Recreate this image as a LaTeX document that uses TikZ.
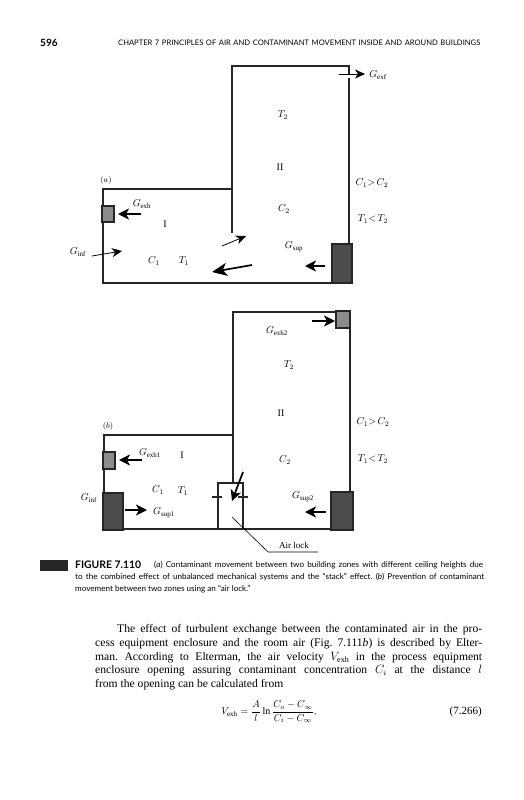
\documentclass[tikz,border=0pt]{standalone}
\usepackage{fontspec}
\usepackage{amsmath}
\usetikzlibrary{arrows.meta}
\setmainfont{Liberation Serif}
\newfontfamily\capfont{Lato}
\frenchspacing
\tikzset{
  wall/.style={line width=1.6pt,draw=black!85},
  flow/.style={line width=1.7pt,-{Stealth[length=11pt,width=11pt,inset=3pt]}},
  thinflow/.style={line width=0.8pt,-{Stealth[length=10pt,width=9pt,inset=3pt]}},
  exhbox/.style={draw=black!85,line width=1.6pt,fill=black!45},
  supbox/.style={draw=black!85,line width=1.6pt,fill=black!70},
  headtext/.style={anchor=west,inner sep=0pt,font=\capfont\fontsize{7.6}{9}\selectfont},
  captext/.style={anchor=west,inner sep=0pt,font=\capfont\fontsize{8.1}{10}\selectfont},
  bodytext/.style={anchor=west,inner sep=0pt,font=\fontsize{11.6}{13}\selectfont},
}
\begin{document}
\begin{tikzpicture}[x=1pt,y=-1pt]
  \useasboundingbox (0,0) rectangle (523,800);
  % page head
  \node[headtext,font=\capfont\bfseries\fontsize{10}{12}\selectfont] (pageno) at (40,43) {596};
  \node[headtext] (head) at (118,43) {\makebox[362pt][s]{CHAPTER 7 PRINCIPLES OF AIR AND CONTAMINANT MOVEMENT INSIDE AND AROUND BUILDINGS}};

  % (a)
  \draw[wall] (349,243) -- (349,78);
  \draw[wall] (349,74) -- (349,66) -- (232,66) -- (232,233);
  \draw[wall] (232,189) -- (103,189) -- (103,283) -- (332,283);
  \draw[exhbox] (102,206) rectangle (114,222);
  \draw[supbox] (332,244) rectangle (352,283);
  \draw[thinflow] (339,74) -- (365,74);
  \draw[flow] (141,214) -- (118,214);
  \draw[thinflow] (92,256) -- (122,251);
  \draw[thinflow] (222,246) -- (246,236);
  \draw[flow,-{Stealth[length=15pt,width=13pt,inset=4pt]}] (252,265) -- (212,272);
  \draw[flow] (325,266) -- (305,266);
  \node (aGexf) at (378,75) {$G_{\mathrm{exf}}$};
  \node (aT2) at (283,115) {$T_2$};
  \node (aII) at (280,167) {II};
  \node (aC2) at (284,209) {$C_2$};
  \node (aCC) at (372,183) {$C_1{>}\,C_2$};
  \node (aTT) at (373,219) {$T_1{<}\,T_2$};
  \node (alabel) at (106,180) {\footnotesize $(a)$};
  \node (aGexh) at (142,204) {$G_{\mathrm{exh}}$};
  \node (aI) at (165,224) {I};
  \node (aGsup) at (294,247) {$G_{\mathrm{sup}}$};
  \node (aGinf) at (78,252) {$G_{\mathrm{inf}}$};
  \node (aC1) at (154,261) {$C_1$};
  \node (aT1) at (184,261) {$T_1$};

  % (b)
  \draw[wall] (350,492) -- (350,312) -- (233,312) -- (233,483);
  \draw[wall] (233,435) -- (104,435) -- (104,493);
  \draw[wall] (123,529) -- (331,529);
  \draw[wall] (218,529) -- (218,483) -- (243,483) -- (243,529);
  \draw[wall] (212,497) -- (222,497);
  \draw[wall] (238,497) -- (248,497);
  \draw[exhbox] (336,311) rectangle (350,328);
  \draw[exhbox] (103,452) rectangle (115,469);
  \draw[supbox] (103,493) rectangle (123,530);
  \draw[supbox] (331,492) rectangle (353,530);
  \draw[flow] (312,321) -- (335,321);
  \draw[flow] (142,460) -- (119,460);
  \draw[flow] (125,510) -- (147,510);
  \draw[flow] (326,512) -- (305,512);
  \draw[flow] (243,472) -- (232,501);
  \node (bGexh2) at (277,331) {$G_{\mathrm{exh2}}$};
  \node (bT2) at (289,365) {$T_2$};
  \node (bII) at (281,413) {II};
  \node (bCC) at (373,422) {$C_1{>}\,C_2$};
  \node (blabel) at (108,426) {\footnotesize $(b)$};
  \node (bGexh1) at (150,453) {$G_{\mathrm{exh1}}$};
  \node (bI) at (182,455) {I};
  \node (bC2) at (285,460) {$C_2$};
  \node (bTT) at (373,459) {$T_1{<}\,T_2$};
  \node (bGinf) at (89,498) {$G_{\mathrm{inf}}$};
  \node (bC1) at (158,490) {$C_1$};
  \node (bT1) at (183,491) {$T_1$};
  \node (bGsup1) at (164,513) {$G_{\mathrm{sup1}}$};
  \node (bGsup2) at (303,497) {$G_{\mathrm{sup2}}$};
  \node[font=\small] (airlock) at (294,545) {Air lock};
  \coordinate (lockin) at (232,517);
  \coordinate (lockbend) at (268,552);
  \coordinate (lockend) at (318,552);
  \draw[line width=0.6pt] (lockin) -- (lockbend) -- (lockend);

  % caption
  \fill[black!85] (40,560) rectangle (68,571);
  \node[captext,font=\capfont\bfseries\fontsize{10.4}{12}\selectfont] (figno) at (75,565) {FIGURE 7.110};
  \node[captext] (cap1) at (154,565) {\makebox[329pt][s]{(\textit{a}) Contaminant movement between two building zones with different ceiling heights due}};
  \node[captext] (cap2) at (75,577) {\makebox[409pt][s]{to the combined effect of unbalanced mechanical systems and the “stack” effect. (\textit{b}) Prevention of contaminant}};
  \node[captext] (cap3) at (75,589) {movement between two zones using an “air lock.”};

  % text below
  \node[bodytext] (line1) at (117,630) {\makebox[365pt][s]{The effect of turbulent exchange between the contaminated air in the pro-}};
  \node[bodytext] (line2) at (95,644) {\makebox[387pt][s]{cess equipment enclosure and the room air (Fig. 7.111\textit{b}) is described by Elter-}};
  \node[bodytext] (line3) at (95,658) {\makebox[387pt][s]{man. According to Elterman, the air velocity $V_{\mathrm{exh}}$ in the process equipment}};
  \node[bodytext] (line4) at (95,671) {\makebox[387pt][s]{enclosure opening assuring contaminant concentration $C_i$ at the distance $l$}};
  \node[bodytext] (line5) at (95,685) {from the opening can be calculated from};
  \node[inner sep=0pt,font=\fontsize{10}{12}\selectfont] (eqn) at (269,712) {$V_{\mathrm{exh}} = \dfrac{A}{l}\ln\dfrac{C_o - C_\infty}{C_i - C_\infty},$};
  \node[anchor=east,inner sep=0pt,font=\fontsize{11}{13}\selectfont] (eqno) at (482,712) {(7.266)};
\end{tikzpicture}
\end{document}
